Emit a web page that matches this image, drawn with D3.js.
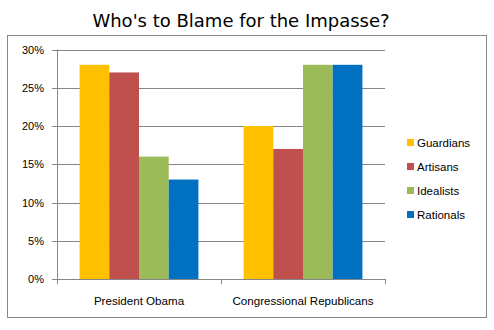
<!DOCTYPE html>
<html><head><meta charset="utf-8">
<script src="https://cdn.jsdelivr.net/npm/d3@7"></script>
<style>body{margin:0;background:#fff}svg{display:block}</style>
</head><body>
<svg id="c" width="494" height="330"></svg>
<script>
const categories = ["President Obama", "Congressional Republicans"];
const seriesNames = ["Guardians", "Artisans", "Idealists", "Rationals"];
const colors = ["#FFC000", "#C0504D", "#9BBB59", "#0070C0"];
const guardians = [28, 20];
const artisans = [27, 17];
const idealists = [16, 28];
const rationals = [13, 28];
const yTicks = [0, 5, 10, 15, 20, 25, 30];
const seriesValues = [guardians, artisans, idealists, rationals];

const svg = d3.select("#c");
const font = "'Liberation Sans', Arial, sans-serif";

svg.append("rect").attr("x", 7.5).attr("y", 35.5).attr("width", 479).attr("height", 282)
  .attr("fill", "#fff").attr("stroke", "#868686").attr("stroke-width", 1);

svg.append("text").attr("x", 241).attr("y", 27).attr("text-anchor", "middle")
  .attr("font-family", "'DejaVu Sans', Verdana, sans-serif").attr("font-size", 18)
  .attr("fill", "#000").text("Who's to Blame for the Impasse?");

const x0 = d3.scaleBand().domain(categories).range([57, 385]).paddingInner(0).paddingOuter(0);
const y = d3.scaleLinear().domain([0, 30]).range([279, 49.5]);
const x1 = d3.scaleBand().domain(seriesNames).range([0, x0.bandwidth()]).paddingOuter(0.76).paddingInner(0);

// gridlines
svg.append("g").selectAll("line").data(yTicks).join("line")
  .attr("x1", 52).attr("x2", 385)
  .attr("y1", d => Math.round(y(d)) + 0.5).attr("y2", d => Math.round(y(d)) + 0.5)
  .attr("stroke", "#868686").attr("stroke-width", 1);

// bars
const groups = svg.append("g").selectAll("g").data(categories).join("g")
  .attr("transform", c => `translate(${x0(c)},0)`);
groups.selectAll("rect").data((c, ci) => seriesNames.map((s, si) => ({s, si, v: seriesValues[si][ci]})))
  .join("rect")
  .attr("x", d => x1(d.s)).attr("width", x1.bandwidth())
  .attr("y", d => y(d.v)).attr("height", d => y(0) - y(d.v))
  .attr("fill", d => colors[d.si]);

// y axis line
svg.append("line").attr("x1", 57.5).attr("x2", 57.5).attr("y1", 49.5).attr("y2", 284)
  .attr("stroke", "#868686");
// x axis line
svg.append("line").attr("x1", 57).attr("x2", 385.5).attr("y1", 279.5).attr("y2", 279.5)
  .attr("stroke", "#868686");
// category ticks
const catEdges = [x0(categories[1]), 385];
svg.append("g").selectAll("line").data(catEdges).join("line")
  .attr("x1", d => Math.round(d) + 0.5).attr("x2", d => Math.round(d) + 0.5)
  .attr("y1", 279).attr("y2", 284).attr("stroke", "#868686");

// y tick labels
svg.append("g").selectAll("text").data(yTicks).join("text")
  .attr("x", 44).attr("y", d => y(d) + 4).attr("text-anchor", "end")
  .attr("font-family", font).attr("font-size", 11).attr("fill", "#000")
  .text(d => d + "%");

// category labels
svg.append("g").selectAll("text").data(categories).join("text")
  .attr("x", c => x0(c) + x0.bandwidth() / 2).attr("y", 305).attr("text-anchor", "middle")
  .attr("font-family", font).attr("font-size", 11.6).attr("fill", "#000")
  .text(c => c);

// legend
const lg = svg.append("g").selectAll("g").data(seriesNames).join("g")
  .attr("transform", (s, i) => `translate(407,${139 + i * 24})`);
lg.append("rect").attr("width", 7).attr("height", 7).attr("fill", (s, i) => colors[i]);
lg.append("text").attr("x", 10).attr("y", 8).attr("font-family", font).attr("font-size", 11.5)
  .attr("fill", "#000").text(s => s);
</script>
</body></html>
